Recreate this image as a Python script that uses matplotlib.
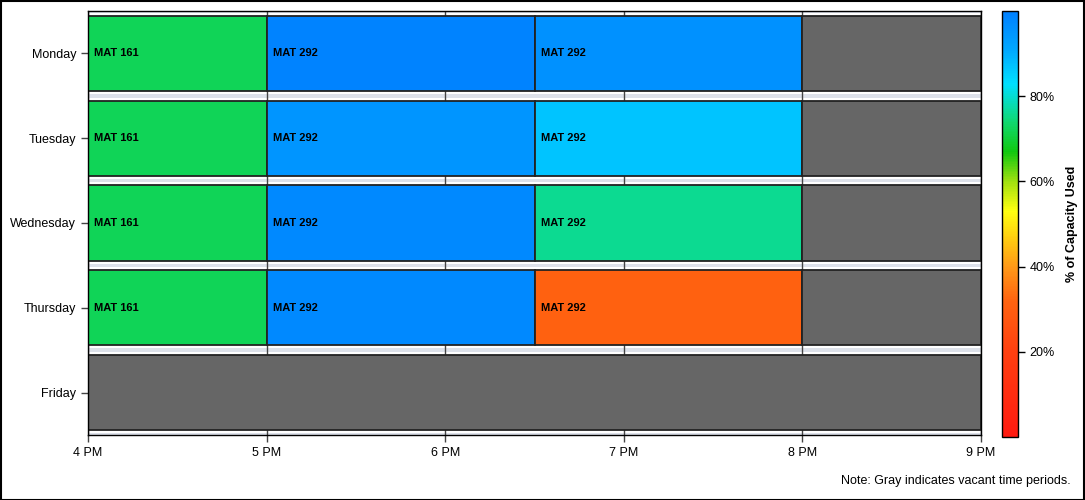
import matplotlib
matplotlib.use("Agg")
import matplotlib.pyplot as plt
from matplotlib.colors import LinearSegmentedColormap, Normalize
from matplotlib.cm import ScalarMappable
from matplotlib.patches import Rectangle

plt.rcParams['font.family'] = ['Liberation Sans', 'DejaVu Sans']

days = ["Monday", "Tuesday", "Wednesday", "Thursday", "Friday"]

# scheduled sessions (hours, 24h clock)
sess_day = ["Monday", "Monday", "Monday",
            "Tuesday", "Tuesday", "Tuesday",
            "Wednesday", "Wednesday", "Wednesday",
            "Thursday", "Thursday", "Thursday"]
sess_start = [16.0, 17.0, 18.5, 16.0, 17.0, 18.5, 16.0, 17.0, 18.5, 16.0, 17.0, 18.5]
sess_end = [17.0, 18.5, 20.0, 17.0, 18.5, 20.0, 17.0, 18.5, 20.0, 17.0, 18.5, 20.0]
sess_course = ["MAT 161", "MAT 292", "MAT 292"] * 4
sess_capacity = [72, 99, 96, 72, 95, 87, 72, 98, 76, 72, 98, 31]

# vacant periods
vac_day = ["Monday", "Tuesday", "Wednesday", "Thursday", "Friday"]
vac_start = [20.0, 20.0, 20.0, 20.0, 16.0]
vac_end = [21.0, 21.0, 21.0, 21.0, 21.0]

x_ticks = [16, 17, 18, 19, 20, 21]
x_labels = ["4 PM", "5 PM", "6 PM", "7 PM", "8 PM", "9 PM"]
cbar_ticks = [20, 40, 60, 80]

cmap = LinearSegmentedColormap.from_list("cap", [
    (0.00, "#ff1a10"), (0.20, "#ff4010"), (0.32, "#ff6410"), (0.40, "#ff9a18"),
    (0.47, "#ffd010"), (0.53, "#ffff10"), (0.60, "#a0e010"), (0.67, "#10c810"),
    (0.74, "#10d870"), (0.83, "#00e0ff"), (0.91, "#00a8ff"), (1.00, "#0080ff")])
norm = Normalize(0, 100)

fig = plt.figure(figsize=(10.85, 5.0), dpi=100)
ax = fig.add_axes([88/1085, 65/500, (981-88)/1085, (435-11)/500])

ypos = {d: i for i, d in enumerate(days)}
bh = 0.885

for i in range(len(days)):
    ax.axhspan(i - 0.5, i + 0.5, color="#dde1ea", zorder=0.5, lw=0)
    ax.axhspan(i - 0.5 + 0.022, i + 0.5 - 0.022, color="white", zorder=0.6, lw=0)

for xt in x_ticks:
    ax.axvline(xt, color="#444444", lw=1.0, zorder=1)

for d, s, e, c, v in zip(sess_day, sess_start, sess_end, sess_course, sess_capacity):
    y = ypos[d]
    ax.barh(y, e - s, left=s, height=bh, color=cmap(norm(v)),
            edgecolor="#222222", linewidth=1.3, zorder=2)
    ax.annotate(c, (s, y), xytext=(4.5, 0), textcoords="offset points",
                ha="left", va="center", fontsize=8, fontweight="bold", zorder=3)

for d, s, e in zip(vac_day, vac_start, vac_end):
    y = ypos[d]
    ax.barh(y, e - s, left=s, height=bh, color="#666666",
            edgecolor="#222222", linewidth=1.3, zorder=2)

ax.set_xlim(16, 21)
ax.set_ylim(len(days) - 0.5, -0.5)
ax.set_yticks(range(len(days)))
ax.set_yticklabels(days, fontsize=9)
ax.set_xticks(x_ticks)
ax.set_xticklabels(x_labels, fontsize=9)
ax.tick_params(axis="both", direction="out", length=5, width=1, color="#444444")
for sp in ax.spines.values():
    sp.set_color("black")
    sp.set_linewidth(1)
    sp.set_zorder(4)

cax = fig.add_axes([1002/1085, 63/500, 16/1085, (437-11)/500])
sm = ScalarMappable(norm=norm, cmap=cmap)
cb = fig.colorbar(sm, cax=cax)
cb.set_ticks(cbar_ticks)
cb.set_ticklabels([f"{t}%" for t in cbar_ticks])
cb.ax.tick_params(labelsize=9, length=5, width=1)
cb.outline.set_edgecolor("black")
cb.outline.set_linewidth(1)
cb.set_label("% of Capacity Used", fontsize=9, fontweight="bold", labelpad=8)

fig.text(1071/1085, 1 - 481/500, "Note: Gray indicates vacant time periods.",
         ha="right", va="center", fontsize=9)

fig.patches.append(Rectangle((0.0005, 0.001), 0.999, 0.998, transform=fig.transFigure,
                             fill=False, edgecolor="black", lw=1.5))

fig.savefig("out.png", dpi=100)
